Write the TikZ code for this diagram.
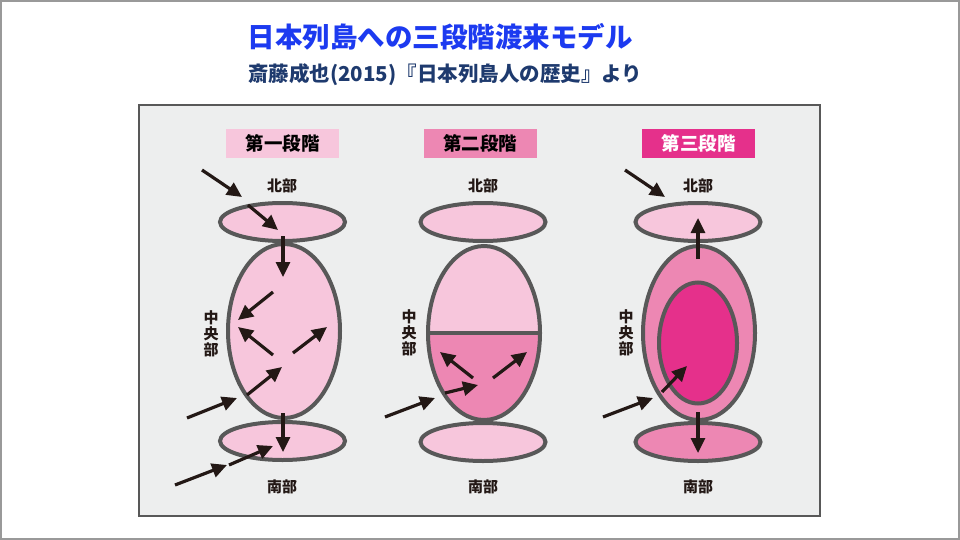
\documentclass[tikz,border=0pt]{standalone}
\usepackage{fontspec}
\newfontfamily\jp{Noto Sans CJK JP}
\usetikzlibrary{arrows.meta, shapes.geometric}

\definecolor{pinklight}{RGB}{247,198,220}
\definecolor{pinkmid}{RGB}{237,135,179}
\definecolor{pinkdeep}{RGB}{229,48,139}
\definecolor{rimgray}{RGB}{88,88,88}
\definecolor{panelgray}{RGB}{237,238,238}
\definecolor{arrowc}{RGB}{35,24,21}
\definecolor{titleblue}{RGB}{28,58,240}
\definecolor{subnavy}{RGB}{30,58,110}

\begin{document}
\begin{tikzpicture}[x=1pt, y=-1pt]

\tikzset{
  region/.style={ellipse, draw=rimgray, line width=4pt, inner sep=0pt},
  flat/.style={region, minimum width=125pt, minimum height=38pt},
  body/.style={region, minimum width=112pt, minimum height=174pt},
  stage/.style={rectangle, minimum width=113pt, minimum height=29pt, inner sep=0pt,
    font=\jp\bfseries\fontsize{18.5}{19}\selectfont},
  part/.style={font=\jp\bfseries\fontsize{15}{16}\selectfont, text=arrowc, inner sep=0pt},
  arr/.style={draw=arrowc, line width=3.2pt, -{Triangle[length=15pt,width=14pt]}}
}

% --- Rahmen ---
\useasboundingbox (0,0) rectangle (960,540);
\draw[gray!80, line width=2pt] (1,1) rectangle (959,539);

% --- Titel ---
\node[font=\jp\bfseries\fontsize{27.5}{28}\selectfont, text=titleblue, inner sep=0pt] (title) at (440,37)
  {日本列島への三段階渡来モデル};
\node[font=\jp\bfseries\fontsize{20.5}{21}\selectfont, text=subnavy, inner sep=0pt, anchor=west] (sub) at (248,75)
  {斎藤成也(2015)『日本列島人の歴史』より};

% --- Hintergrund ---
\node[draw=rimgray, line width=1.2pt, fill=panelgray, minimum width=681pt, minimum height=411pt,
  inner sep=0pt] (panel) at (479.5,310.5) {};

% --- Stufe 1 ---
\node[stage, fill=pinklight] (st1) at (282.5,143.5) {第一段階};
\node[part] (nl1) at (282,186) {北部};
\node[flat, fill=pinklight] (n1) at (282.5,222) {};
\node[body, fill=pinklight] (m1) at (284,331) {};
\node[flat, fill=pinklight] (s1) at (282.5,441) {};
\node[part] (sl1) at (282,487) {南部};
\node[part, align=center] (cl1) at (211,334) {中\\央\\部};

% --- Stufe 2 ---
\node[stage, fill=pinkmid] (st2) at (480,143.5) {第二段階};
\node[part] (nl2) at (483,186) {北部};
\node[flat, fill=pinklight] (n2) at (483,222) {};
\node[body, fill=pinklight, path picture={
    \fill[pinkmid] (path picture bounding box.west) rectangle (path picture bounding box.south east);
    \draw[rimgray, line width=4pt] (path picture bounding box.west) -- (path picture bounding box.east);
  }] (m2) at (484,333) {};
\node[flat, fill=pinklight] (s2) at (483,442) {};
\node[part] (sl2) at (483,487) {南部};
\node[part, align=center] (cl2) at (409,333) {中\\央\\部};

% --- Stufe 3 ---
\node[stage, fill=pinkdeep, text=white] (st3) at (698.5,143.5) {第三段階};
\node[part] (nl3) at (698,186) {北部};
\node[flat, fill=pinklight] (n3) at (698,222) {};
\node[body, fill=pinkmid] (m3) at (699,333) {};
\node[region, fill=pinkdeep, minimum width=78pt, minimum height=121pt] (k3) at (698,343) {};
\node[flat, fill=pinkmid] (s3) at (698,442) {};
\node[part] (sl3) at (698,487) {南部};
\node[part, align=center] (cl3) at (626,333) {中\\央\\部};

% --- Pfeile (Start / Ende) ---
\foreach \i/\xa/\ya/\xb/\yb in {
    1/202/170/242/197, 2/248/205/278/230, 3/283/236/283/277,
    4/273/292/238/320, 5/273/355/238/327, 6/293/353/327/327,
    7/247/395/282/367, 8/187/418/237/398, 9/283/413/283/452,
    10/229/465/273/446, 11/175/485/227/465,
    12/473/378/440/352, 13/493/378/527/352, 14/445/393/478/385,
    15/385/417/435/398,
    16/625/170/665/197, 17/698/259/698/218, 18/662/392/687/366,
    19/603/417/653/398, 20/698/412/698/453} {
  \coordinate (from\i) at (\xa,\ya);
  \coordinate (to\i) at (\xb,\yb);
  \draw[arr] (from\i) -- (to\i);
}

\end{tikzpicture}
\end{document}
